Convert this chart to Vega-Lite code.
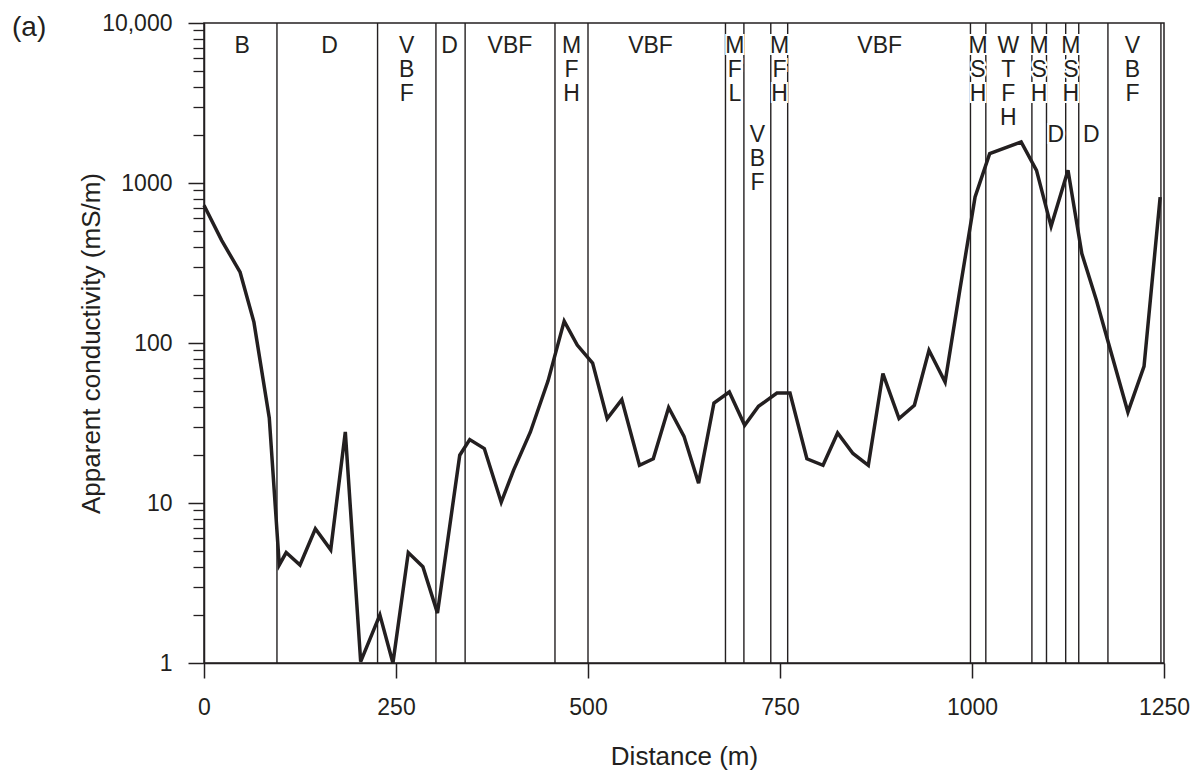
{
  "$schema": "https://vega.github.io/schema/vega-lite/v6.json",
  "width": 960,
  "height": 640,
  "autosize": {"type": "none"},
  "padding": {"left": 204, "top": 23, "right": 34, "bottom": 111},
  "background": "white",
  "config": {
    "font": "Liberation Sans",
    "view": {"stroke": "#231f20", "strokeWidth": 1.5},
    "axis": {"grid": false, "labelColor": "#231f20", "titleColor": "#231f20", "tickColor": "#231f20", "domainColor": "#231f20", "tickWidth": 1.5, "domainWidth": 1.5, "labelFontSize": 23, "titleFontSize": 26, "titleFontWeight": "normal", "labelOverlap": false, "labelFlush": false}
  },
  "title": {"text": "(a)", "anchor": "start", "frame": "group", "fontSize": 28, "fontWeight": "normal", "color": "#231f20", "dx": -192, "dy": 30, "baseline": "top", "offset": 0},
  "datasets": {
    "profile": [
      {"distance": 0, "conductivity": 726},
      {"distance": 23, "conductivity": 438},
      {"distance": 47, "conductivity": 277},
      {"distance": 65, "conductivity": 135},
      {"distance": 85, "conductivity": 34},
      {"distance": 98, "conductivity": 4.1},
      {"distance": 107, "conductivity": 4.9},
      {"distance": 125, "conductivity": 4.1},
      {"distance": 145, "conductivity": 6.9},
      {"distance": 165, "conductivity": 5.1},
      {"distance": 184, "conductivity": 27.8},
      {"distance": 204, "conductivity": 1.02},
      {"distance": 229, "conductivity": 2.0},
      {"distance": 246, "conductivity": 1.0},
      {"distance": 266, "conductivity": 4.9},
      {"distance": 285, "conductivity": 4.0},
      {"distance": 304, "conductivity": 2.05},
      {"distance": 333, "conductivity": 19.9},
      {"distance": 346, "conductivity": 24.9},
      {"distance": 365, "conductivity": 21.9},
      {"distance": 387, "conductivity": 10.1},
      {"distance": 403, "conductivity": 16},
      {"distance": 425, "conductivity": 27.8},
      {"distance": 448, "conductivity": 58},
      {"distance": 469, "conductivity": 137},
      {"distance": 486, "conductivity": 97},
      {"distance": 506, "conductivity": 75},
      {"distance": 525, "conductivity": 33.7},
      {"distance": 544, "conductivity": 44.3},
      {"distance": 567, "conductivity": 17.2},
      {"distance": 585, "conductivity": 18.9},
      {"distance": 605, "conductivity": 39.5},
      {"distance": 625, "conductivity": 26.1},
      {"distance": 644, "conductivity": 13.3},
      {"distance": 664, "conductivity": 42.2},
      {"distance": 684, "conductivity": 49.4},
      {"distance": 704, "conductivity": 30.6},
      {"distance": 722, "conductivity": 40.2},
      {"distance": 746, "conductivity": 48.7},
      {"distance": 763, "conductivity": 48.7},
      {"distance": 785, "conductivity": 18.9},
      {"distance": 806, "conductivity": 17.2},
      {"distance": 825, "conductivity": 27.4},
      {"distance": 845, "conductivity": 20.4},
      {"distance": 865, "conductivity": 17.2},
      {"distance": 884, "conductivity": 64.4},
      {"distance": 905, "conductivity": 33.7},
      {"distance": 925, "conductivity": 40.8},
      {"distance": 944, "conductivity": 90},
      {"distance": 965, "conductivity": 57},
      {"distance": 984, "conductivity": 212},
      {"distance": 1004, "conductivity": 817},
      {"distance": 1023, "conductivity": 1527},
      {"distance": 1064, "conductivity": 1805},
      {"distance": 1084, "conductivity": 1200},
      {"distance": 1103, "conductivity": 536},
      {"distance": 1125, "conductivity": 1200},
      {"distance": 1143, "conductivity": 362},
      {"distance": 1162, "conductivity": 185},
      {"distance": 1203, "conductivity": 37},
      {"distance": 1224, "conductivity": 71.5},
      {"distance": 1245, "conductivity": 817}
    ],
    "bounds": [
      {"distance": 95}, {"distance": 226}, {"distance": 302}, {"distance": 340},
      {"distance": 457}, {"distance": 500}, {"distance": 679}, {"distance": 703},
      {"distance": 738}, {"distance": 760}, {"distance": 998}, {"distance": 1018},
      {"distance": 1078}, {"distance": 1097}, {"distance": 1122}, {"distance": 1139},
      {"distance": 1177}, {"distance": 1246}
    ],
    "zones": [
      {"distance": 49.7, "label": "B", "row": "top"},
      {"distance": 163.4, "label": "D", "row": "top"},
      {"distance": 264, "label": "V\nB\nF", "row": "top"},
      {"distance": 319.7, "label": "D", "row": "top"},
      {"distance": 398.4, "label": "VBF", "row": "top"},
      {"distance": 478.7, "label": "M\nF\nH", "row": "top"},
      {"distance": 581.4, "label": "VBF", "row": "top"},
      {"distance": 691.2, "label": "M\nF\nL", "row": "top"},
      {"distance": 720.7, "label": "V\nB\nF", "row": "low"},
      {"distance": 749.5, "label": "M\nF\nH", "row": "top"},
      {"distance": 879.8, "label": "VBF", "row": "top"},
      {"distance": 1007.8, "label": "M\nS\nH", "row": "top"},
      {"distance": 1047.3, "label": "W\nT\nF\nH", "row": "top"},
      {"distance": 1087.4, "label": "M\nS\nH", "row": "top"},
      {"distance": 1109, "label": "D", "row": "low"},
      {"distance": 1128.7, "label": "M\nS\nH", "row": "top"},
      {"distance": 1155.4, "label": "D", "row": "low"},
      {"distance": 1209, "label": "V\nB\nF", "row": "top"}
    ]
  },
  "layer": [
    {
      "data": {"name": "bounds"},
      "mark": {"type": "rule", "color": "#231f20", "strokeWidth": 1.4},
      "encoding": {
        "x": {"field": "distance", "type": "quantitative", "scale": {"domain": [0, 1250], "nice": false}, "axis": null}
      }
    },
    {
      "data": {"name": "zones"},
      "transform": [{"filter": "datum.row == 'top'"}],
      "mark": {"type": "text", "align": "center", "baseline": "top", "lineBreak": "\n", "fontSize": 23, "lineHeight": 24, "dy": 12, "fill": "white", "stroke": "white", "strokeWidth": 4},
      "encoding": {
        "x": {"field": "distance", "type": "quantitative", "axis": null},
        "y": {"datum": 10000, "type": "quantitative", "scale": {"type": "log"}, "axis": {"orient": "left", "values": [2,3,4,5,6,7,8,9,20,30,40,50,60,70,80,90,200,300,400,500,600,700,800,900,2000,3000,4000,5000,6000,7000,8000,9000], "labels": false, "domain": false, "tickSize": 11, "tickWidth": 1.3, "title": null}},
        "text": {"field": "label"}
      }
    },
    {
      "data": {"name": "zones"},
      "transform": [{"filter": "datum.row == 'low'"}],
      "mark": {"type": "text", "align": "center", "baseline": "top", "lineBreak": "\n", "fontSize": 23, "lineHeight": 24, "dy": 101, "fill": "white", "stroke": "white", "strokeWidth": 4},
      "encoding": {
        "x": {"field": "distance", "type": "quantitative", "axis": null},
        "y": {"datum": 10000, "type": "quantitative", "scale": {"type": "log"}, "axis": null},
        "text": {"field": "label"}
      }
    },
    {
      "data": {"name": "zones"},
      "transform": [{"filter": "datum.row == 'top'"}],
      "mark": {"type": "text", "align": "center", "baseline": "top", "lineBreak": "\n", "fontSize": 23, "lineHeight": 24, "dy": 12, "color": "#231f20"},
      "encoding": {
        "x": {"field": "distance", "type": "quantitative", "axis": null},
        "y": {"datum": 10000, "type": "quantitative", "scale": {"type": "log"}, "axis": null},
        "text": {"field": "label"}
      }
    },
    {
      "data": {"name": "zones"},
      "transform": [{"filter": "datum.row == 'low'"}],
      "mark": {"type": "text", "align": "center", "baseline": "top", "lineBreak": "\n", "fontSize": 23, "lineHeight": 24, "dy": 101, "color": "#231f20"},
      "encoding": {
        "x": {"field": "distance", "type": "quantitative", "axis": null},
        "y": {"datum": 10000, "type": "quantitative", "scale": {"type": "log"}, "axis": null},
        "text": {"field": "label"}
      }
    },
    {
      "data": {"name": "profile"},
      "mark": {"type": "line", "color": "#231f20", "strokeWidth": 3.5, "strokeJoin": "miter"},
      "encoding": {
        "x": {"field": "distance", "type": "quantitative", "scale": {"domain": [0, 1250], "nice": false}, "axis": {"orient": "bottom", "values": [0, 250, 500, 750, 1000, 1250], "labelExpr": "format(datum.value, 'd')", "title": "Distance (m)", "tickSize": 15, "labelPadding": 18, "titlePadding": 24}},
        "y": {"field": "conductivity", "type": "quantitative", "scale": {"type": "log", "domain": [1, 10000]}, "axis": {"orient": "left", "values": [1, 10, 100, 1000, 10000], "labelExpr": "datum.value == 10000 ? '10,000' : format(datum.value, 'd')", "tickSize": 16, "labelPadding": 16, "title": "Apparent conductivity (mS/m)", "titlePadding": -3}}
      }
    }
  ],
  "resolve": {"axis": {"x": "independent", "y": "independent"}}
}
